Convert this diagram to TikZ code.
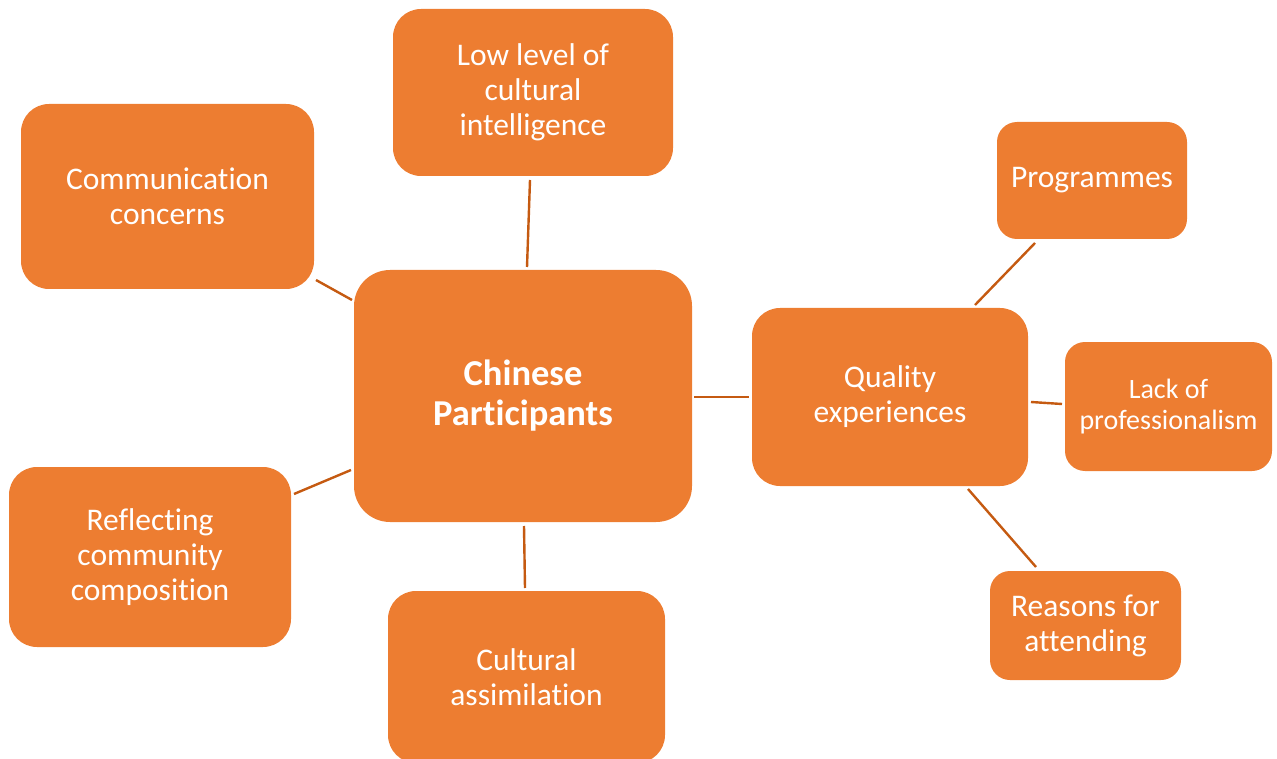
\documentclass[tikz,border=0pt]{standalone}
\usepackage{fontspec}
\setmainfont[Ligatures={NoCommon,NoContextual}]{Carlito}
\definecolor{boxor}{HTML}{ED7D31}
\definecolor{lineor}{HTML}{C55A11}
\begin{document}
\begin{tikzpicture}[x=1pt,y=-1pt,
  box/.style={fill=boxor,draw=none,rounded corners=#1,text=white,align=center,inner sep=0pt,font=\fontsize{31.5}{35}\selectfont},
  box/.default=28pt,
  conn/.style={draw=lineor,line width=2.4pt}]
\useasboundingbox (0,0) rectangle (1277,759);
\clip (0,0) rectangle (1277,759);
\node[box,minimum width=280pt,minimum height=167pt] (low) at (533,92.5) {Low level of\\cultural\\intelligence};
\node[box,minimum width=293pt,minimum height=185pt] (comm) at (167.5,196.5) {Communication\\concerns};
\node[box=36pt,minimum width=338pt,minimum height=252pt,font=\fontsize{36.5}{40}\selectfont\bfseries] (cen) at (523,396) {Chinese\\Participants};
\node[box,minimum width=282pt,minimum height=180pt] (refl) at (150,557) {Reflecting\\community\\composition};
\node[box,minimum width=277pt,minimum height=172pt] (assim) at (526.5,677) {Cultural\\assimilation};
\node[box,minimum width=276pt,minimum height=178pt] (qual) at (890,397) {Quality\\experiences};
\node[box=20pt,minimum width=190pt,minimum height=117pt] (prog) at (1092,180.5) {Programmes};
\node[box=20pt,minimum width=207pt,minimum height=129pt,font=\fontsize{28}{31}\selectfont] (lack) at (1168.5,406.5) {Lack of\\professionalism};
\node[box=20pt,minimum width=191pt,minimum height=109pt] (reas) at (1085.5,625.5) {Reasons for\\attending};
\coordinate (c1a) at (527,267); \coordinate (c1b) at (530,180);
\draw[conn] (c1a) -- (c1b);
\coordinate (c2a) at (352,300); \coordinate (c2b) at (316,280);
\draw[conn] (c2a) -- (c2b);
\coordinate (c3a) at (351,470); \coordinate (c3b) at (294,494);
\draw[conn] (c3a) -- (c3b);
\coordinate (c4a) at (524,526); \coordinate (c4b) at (525,588);
\draw[conn] (c4a) -- (c4b);
\coordinate (c5a) at (694,397); \coordinate (c5b) at (749,397);
\draw[conn] (c5a) -- (c5b);
\coordinate (c6a) at (975,305); \coordinate (c6b) at (1035,243);
\draw[conn] (c6a) -- (c6b);
\coordinate (c7a) at (1031,402); \coordinate (c7b) at (1062,404);
\draw[conn] (c7a) -- (c7b);
\coordinate (c8a) at (968,489); \coordinate (c8b) at (1036,567);
\draw[conn] (c8a) -- (c8b);
\end{tikzpicture}
\end{document}
